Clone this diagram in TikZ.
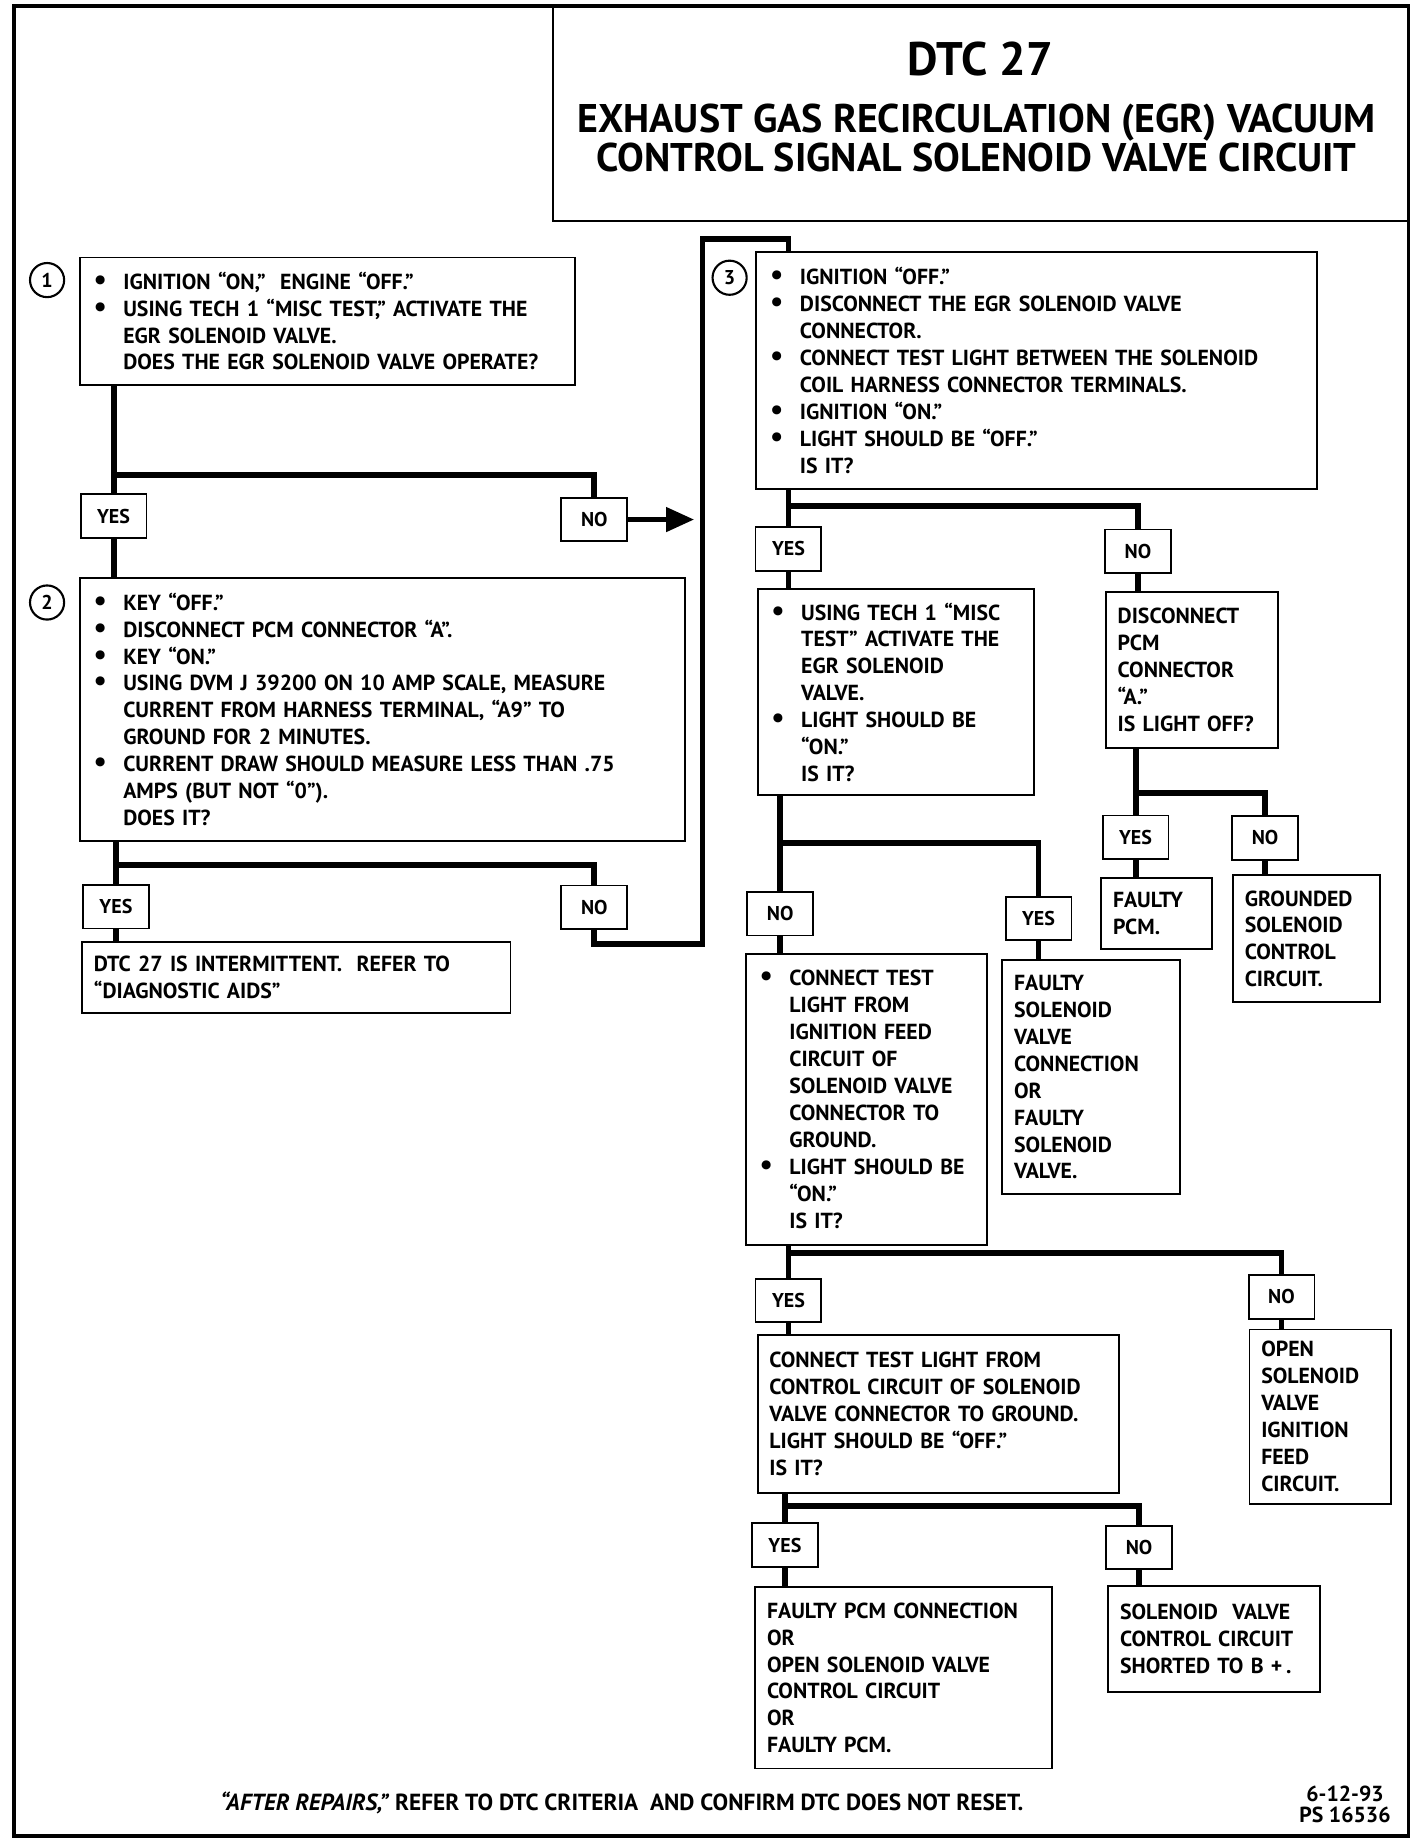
\documentclass[tikz,border=0pt]{standalone}
\usepackage{fontspec}
\setmainfont{PT Sans}
\usetikzlibrary{arrows.meta}
\newcommand{\boxfont}{\fontsize{18.5}{22.9}\selectfont\bfseries}
\newcommand{\ansfont}{\fontsize{17}{20}\selectfont\bfseries}
\newcommand{\bult}{\leavevmode\llap{{\fontsize{25}{0}\selectfont\textbullet}\hspace{14pt}}}
\newcommand{\hangtxt}{\leftskip=27pt\relax}
\tikzset{
  box/.style={draw, line width=1.6pt, anchor=north west, inner xsep=10pt, inner ysep=0pt, align=left, font=\boxfont},
  ans/.style={draw, line width=1.6pt, minimum width=56pt, minimum height=37pt, inner sep=0pt, font=\ansfont},
  numc/.style={draw, circle, line width=1.8pt, minimum size=29pt, inner sep=0pt, font=\ansfont},
  flow/.style={line width=5pt},
}
\begin{document}
\begin{tikzpicture}[x=1pt,y=1pt,yscale=-1,xscale=1]
        \useasboundingbox (0,0) rectangle (1210,1567);
        
        %Shape: Frame
        \draw [line width=3pt] (12,5) rectangle (1197,1560);
        %Shape: Title box
        \draw [line width=2pt] (470,5) -- (470,188) -- (1197,188);
        % Text Node
        \node [anchor=base, font=\fontsize{40}{42}\selectfont\bfseries] (ttl) at (833,64) {DTC 27};
        % Text Node
        \node [anchor=base, font=\fontsize{34}{36}\selectfont\bfseries] (ttla) at (830,113) {EXHAUST GAS RECIRCULATION (EGR) VACUUM};
        % Text Node
        \node [anchor=base, font=\fontsize{34}{36}\selectfont\bfseries] (ttlb) at (830,146) {CONTROL SIGNAL SOLENOID VALVE CIRCUIT};
        
        % Step 1
        \node [numc] (c1) at (40,238) {1};
        \node [box, text width=401pt, minimum height=108pt] (b1) at (67,218) {\hangtxt
          \bult IGNITION “ON,”\ \ ENGINE “OFF.”\\
          \bult USING TECH 1 “MISC TEST,” ACTIVATE THE\\
          EGR SOLENOID VALVE.\\
          DOES THE EGR SOLENOID VALVE OPERATE?\par};
        \node [ans] (y1) at (96.5,438.5) {YES};
        \node [ans] (n1) at (505,441.5) {NO};
        \coordinate (j1) at (96.5,404);
        \coordinate (a1) at (590,441.5);
        
        % Step 2
        \node [numc] (c2) at (40,512) {2};
        \node [box, text width=494pt, minimum height=224pt] (b2) at (67,490) {\hangtxt
          \bult KEY “OFF.”\\
          \bult DISCONNECT PCM CONNECTOR “A”.\\
          \bult KEY “ON.”\\
          \bult USING DVM J 39200 ON 10 AMP SCALE, MEASURE\\
          CURRENT FROM HARNESS TERMINAL, “A9” TO\\
          GROUND FOR 2 MINUTES.\\
          \bult CURRENT DRAW SHOULD MEASURE LESS THAN .75\\
          AMPS (BUT NOT “0”).\\
          DOES IT?\par};
        \node [ans] (y2) at (98.5,770.5) {YES};
        \node [ans] (n2) at (505,771) {NO};
        \coordinate (j2) at (98.5,735);
        \node [box, text width=344pt, minimum height=60pt] (b2y) at (69,800) {DTC 27 IS INTERMITTENT.\ \ REFER TO\\
          “DIAGNOSTIC AIDS”};
        \coordinate (l1) at (597,802);
        \coordinate (l2) at (597,203);
        
        % Step 3
        \node [numc] (c3) at (620,236) {3};
        \node [box, text width=456pt, minimum height=202pt] (b3) at (642,213) {\hangtxt
          \bult IGNITION “OFF.”\\
          \bult DISCONNECT THE EGR SOLENOID VALVE\\
          CONNECTOR.\\
          \bult CONNECT TEST LIGHT BETWEEN THE SOLENOID\\
          COIL HARNESS CONNECTOR TERMINALS.\\
          \bult IGNITION “ON.”\\
          \bult LIGHT SHOULD BE “OFF.”\\
          IS IT?\par};
        \node [ans] (y3) at (670,466.5) {YES};
        \node [ans] (n3) at (967,468.5) {NO};
        \coordinate (j3) at (670,430);
        
        \node [box, text width=215pt, minimum height=175pt] (b3a) at (643,500) {\hangtxt
          \bult USING TECH 1 “MISC\\
          TEST” ACTIVATE THE\\
          EGR SOLENOID\\
          VALVE.\\
          \bult LIGHT SHOULD BE\\
          “ON.”\\
          IS IT?\par};
        \node [box, text width=126pt, minimum height=133pt] (b3b) at (939,502) {DISCONNECT\\
          PCM\\
          CONNECTOR\\
          “A.”\\
          IS LIGHT OFF?};
        
        \node [ans] (y4) at (965,711.5) {YES};
        \node [ans] (n4) at (1075,712) {NO};
        \coordinate (j4) at (965,674);
        \node [box, text width=74pt, minimum height=61pt] (fpcm) at (935,745) {FAULTY\\
          PCM.};
        \node [box, text width=105pt, minimum height=108pt] (gnd) at (1047,743) {GROUNDED\\
          SOLENOID\\
          CONTROL\\
          CIRCUIT.};
        
        \node [ans] (n5) at (663,776.5) {NO};
        \node [ans] (y5) at (882.5,780.5) {YES};
        \coordinate (j5) at (663,716);
        \node [box, text width=185pt, minimum height=247pt] (b4) at (633,810) {\hangtxt
          \bult CONNECT TEST\\
          LIGHT FROM\\
          IGNITION FEED\\
          CIRCUIT OF\\
          SOLENOID VALVE\\
          CONNECTOR TO\\
          GROUND.\\
          \bult LIGHT SHOULD BE\\
          “ON.”\\
          IS IT?\par};
        \node [box, text width=131pt, minimum height=199pt] (fsol) at (851,815) {FAULTY\\
          SOLENOID\\
          VALVE\\
          CONNECTION\\
          OR\\
          FAULTY\\
          SOLENOID\\
          VALVE.};
        
        \node [ans] (y6) at (670,1105) {YES};
        \node [ans] (n6) at (1089,1102) {NO};
        \coordinate (j6) at (670,1065);
        \node [box, text width=287pt, minimum height=134pt] (b5) at (643,1134) {CONNECT TEST LIGHT FROM\\
          CONTROL CIRCUIT OF SOLENOID\\
          VALVE CONNECTOR TO GROUND.\\
          LIGHT SHOULD BE “OFF.”\\
          IS IT?};
        \node [box, text width=100pt, minimum height=148pt] (fopen) at (1061,1129) {OPEN\\
          SOLENOID\\
          VALVE\\
          IGNITION\\
          FEED\\
          CIRCUIT.};
        
        \node [ans] (y7) at (667,1313) {YES};
        \node [ans] (n7) at (968,1315) {NO};
        \coordinate (j7) at (667,1280);
        \node [box, text width=232pt, minimum height=154pt] (b6) at (641,1348) {FAULTY PCM CONNECTION\\
          OR\\
          OPEN SOLENOID VALVE\\
          CONTROL CIRCUIT\\
          OR\\
          FAULTY PCM.};
        \node [box, text width=160pt, minimum height=90pt] (shrt) at (941,1347) {SOLENOID\ \ VALVE\\
          CONTROL CIRCUIT\\
          SHORTED TO B +\,.};
        
        % Connectors
        \draw [flow] (b1.south -| y1) -- (y1.north);
        \draw [flow] (j1) -| (n1.north);
        \draw [flow] (y1.south) -- (b2.north -| y1);
        \draw [flow, -{Triangle[length=24pt, width=20pt]}] (n1.east) -- (a1);
        \draw [flow] (b2.south -| y2) -- (y2.north);
        \draw [flow] (j2) -| (n2.north);
        \draw [flow] (y2.south) -- (b2y.north -| y2);
        \draw [flow] (n2.south) |- (l1) -- (l2) -| (b3.north -| y3);
        \draw [flow] (b3.south -| y3) -- (y3.north);
        \draw [flow] (j3) -| (n3.north);
        \draw [flow] (y3.south) -- (b3a.north -| y3);
        \draw [flow] (n3.south) -- (b3b.north -| n3);
        \draw [flow] (b3b.south -| y4) -- (y4.north);
        \draw [flow] (j4) -| (n4.north);
        \draw [flow] (y4.south) -- (fpcm.north -| y4);
        \draw [flow] (n4.south) -- (gnd.north -| n4);
        \draw [flow] (b3a.south -| n5) -- (n5.north);
        \draw [flow] (j5) -| (y5.north);
        \draw [flow] (n5.south) -- (b4.north -| n5);
        \draw [flow] (y5.south) -- (fsol.north -| y5);
        \draw [flow] (b4.south -| y6) -- (y6.north);
        \draw [flow] (j6) -| (n6.north);
        \draw [flow] (y6.south) -- (b5.north -| y6);
        \draw [flow] (n6.south) -- (fopen.north -| n6);
        \draw [flow] (b5.south -| y7) -- (y7.north);
        \draw [flow] (j7) -| (n7.north);
        \draw [flow] (y7.south) -- (b6.north -| y7);
        \draw [flow] (n7.south) -- (shrt.north -| n7);
        
        % Text Node
        \node [anchor=base, font=\fontsize{19.8}{22}\selectfont\bfseries] (foot) at (528.5,1538.5) {\textit{“AFTER REPAIRS,”} REFER TO DTC CRITERIA\ \ AND CONFIRM DTC DOES NOT RESET.};
        % Text Node
        \node [anchor=base, font=\boxfont] (date) at (1143,1531) {6-12-93};
        % Text Node
        \node [anchor=base, font=\boxfont] (psno) at (1143,1549) {PS 16536};
    \end{tikzpicture}
\end{document}
